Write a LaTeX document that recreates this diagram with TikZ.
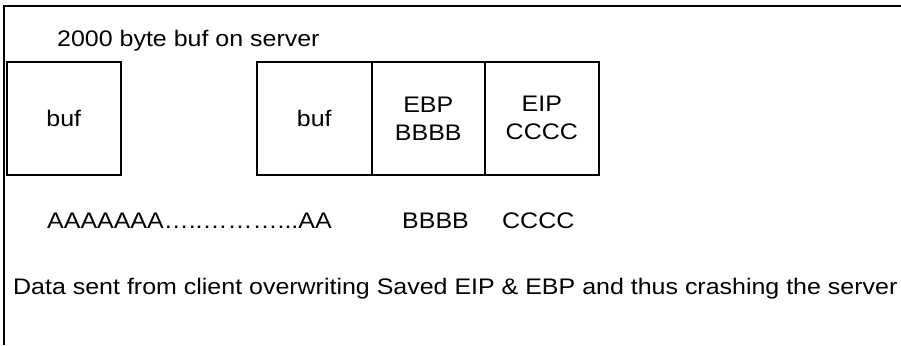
\documentclass[tikz,border=0pt]{standalone}
\usepackage{fontspec}
\setmainfont[FakeStretch=1.11]{Liberation Sans}
\begin{document}
\begin{tikzpicture}[x=1pt,y=-1pt,
  cell/.style={draw,line width=1.6pt,minimum width=114pt,minimum height=113pt,inner sep=0pt,anchor=north west,align=center,font=\fontsize{22.5}{28}\selectfont},
  label/.style={inner sep=0pt,anchor=base west,font=\fontsize{22.5}{28}\selectfont}]
\useasboundingbox (0,0) rectangle (901,345);
\fill[white] (0,0) rectangle (901,345);
\coordinate (fb) at (4,345);
\coordinate (fc) at (4,6);
\coordinate (fr) at (901,6);
\draw[line width=1.3pt] (fb) -- (fc) -- (fr);
\node[label] (title) at (57,47) {2000 byte buf on server};
\node[cell] (buf1) at (6,61) {buf};
\node[cell,minimum width=115pt] (buf2) at (256,61) {buf};
\node[cell,minimum width=113pt] (ebp) at (371,61) {EBP\\BBBB};
\node[cell] (eip) at (484,61) {EIP\\CCCC};
\node[label] (arow) at (47,228) {AAAAAAA…..………...AA};
\node[label] (brow) at (402,228) {BBBB};
\node[label] (crow) at (502,228) {CCCC};
\node[label] (note) at (13,294) {Data sent from client overwriting Saved EIP \& EBP and thus crashing the server};
\end{tikzpicture}
\end{document}
